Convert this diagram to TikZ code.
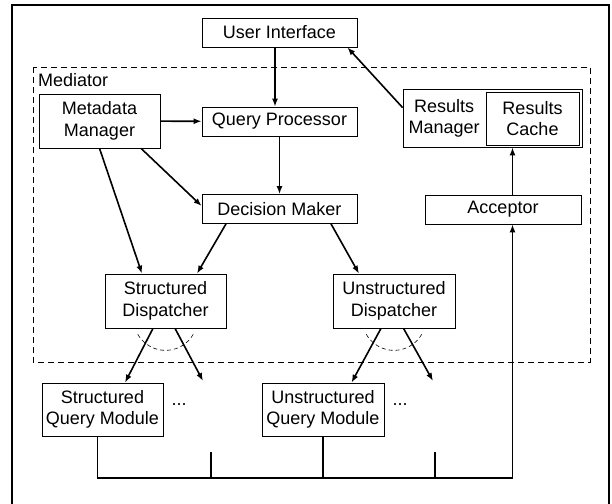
\documentclass[tikz,border=0pt]{standalone}
\usepackage{fontspec}
\setmainfont{Liberation Sans}
\usetikzlibrary{arrows.meta,calc}

\begin{document}
\begin{tikzpicture}[x=1pt,y=-1pt,>={Latex[length=8pt,width=6pt]},
  box/.style={draw,line width=0.7pt,align=center,inner sep=0pt,font=\fontsize{18}{21.5}\selectfont},
  wide/.style={box,minimum width=155pt,minimum height=29pt},
  tall/.style={box,minimum width=121pt,minimum height=54pt},
  link/.style={->,line width=1.6pt},
  wire/.style={line width=1.6pt}]
\useasboundingbox (0,0) rectangle (612,503);
\draw[line width=2pt] (12,510) -- (12,5) -- (609,5) -- (609,510);
\draw[dashed,line width=0.7pt,dash pattern=on 6pt off 4pt] (33,67) rectangle (590,362);
\node[anchor=west,inner sep=0pt,font=\fontsize{18}{21.5}\selectfont] (medlbl) at (38,80) {Mediator};

\node[wide] (ui) at (279.5,32.5) {User Interface};
\node[tall] (mm) at (99.5,121) {Metadata\\Manager};
\node[wide] (qp) at (279.5,121.5) {Query Processor};
\node[box,minimum width=179pt,minimum height=58pt] (rm) at (492.5,118) {};
\node[box,minimum width=93pt,minimum height=53pt] (rc) at (532.5,118.5) {Results\\Cache};
\node[align=center,inner sep=0pt,font=\fontsize{18}{21.5}\selectfont] (rmlbl) at ($(rm.west)!0.5!(rc.west)$) {Results\\Manager};
\node[wide] (dm) at (279.5,209) {Decision Maker};
\node[box,minimum width=156pt,minimum height=29pt] (acc) at (503,209.5) {Acceptor};
\node[tall] (sd) at (165.5,301) {Structured\\Dispatcher};
\node[box,minimum width=122pt,minimum height=54pt] (ud) at (394,301) {Unstructured\\Dispatcher};
\node[tall,minimum height=53pt] (sqm) at (102.5,409.5) {Structured\\Query Module};
\node[box,minimum width=122pt,minimum height=53pt] (uqm) at (323,409.5) {Unstructured\\Query Module};
\node[inner sep=0pt,font=\fontsize{18}{21.5}\selectfont] (dots1) at (179,405) {...};
\node[inner sep=0pt,font=\fontsize{18}{21.5}\selectfont] (dots2) at (400,405) {...};

\coordinate (sdfree) at (203,381);
\coordinate (udfree) at (433,381);
\coordinate (free1) at (211,452);
\coordinate (free2) at (435,452);
\coordinate (bus) at (0,478);
\coordinate (accin) at ([xshift=9.5pt]acc.south);
\coordinate (accout) at ([xshift=9.5pt]acc.north);

\draw[link] ([xshift=-4.5pt]ui.south) -- ([xshift=-4.5pt]qp.north);
\draw[link] ([yshift=-19pt]rm.north west) -- ([xshift=-10pt]ui.south east);
\draw[link] (mm) -- (qp);
\draw[link] (qp) -- (dm);
\draw[link] ([xshift=41.5pt]mm.south) -- ([yshift=3pt]dm.west);
\draw[link] (mm.south) -- ([xshift=-23.5pt]sd.north);
\draw[link] ([xshift=-53.5pt]dm.south) -- ([xshift=31.5pt]sd.north);
\draw[link] ([xshift=51.5pt]dm.south) -- ([xshift=-35pt]ud.north);
\draw[link] (accout) -- (accout |- rm.south);

\draw[link] ([xshift=-12.5pt]sd.south) -- ([xshift=22.5pt]sqm.north);
\draw[link] ([xshift=9.5pt]sd.south) -- (sdfree);
\draw[link] ([xshift=-13pt]ud.south) -- ([xshift=28.5pt]uqm.north);
\draw[link] ([xshift=9.5pt]ud.south) -- (udfree);
\draw[dashed,line width=0.6pt,dash pattern=on 4pt off 3pt] ([xshift=-27.7pt,yshift=-6pt]sd.south) arc[start angle=150,end angle=30,radius=32];
\draw[dashed,line width=0.6pt,dash pattern=on 4pt off 3pt] ([xshift=-27.7pt,yshift=-6pt]ud.south) arc[start angle=150,end angle=30,radius=32];

\draw[link] ([xshift=-5pt]sqm.south) |- (bus -| accin) -- (accin);
\draw[wire] (free1) -- (free1 |- bus);
\draw[wire] (uqm.south) -- (uqm.south |- bus);
\draw[wire] (free2) -- (free2 |- bus);
\end{tikzpicture}
\end{document}
